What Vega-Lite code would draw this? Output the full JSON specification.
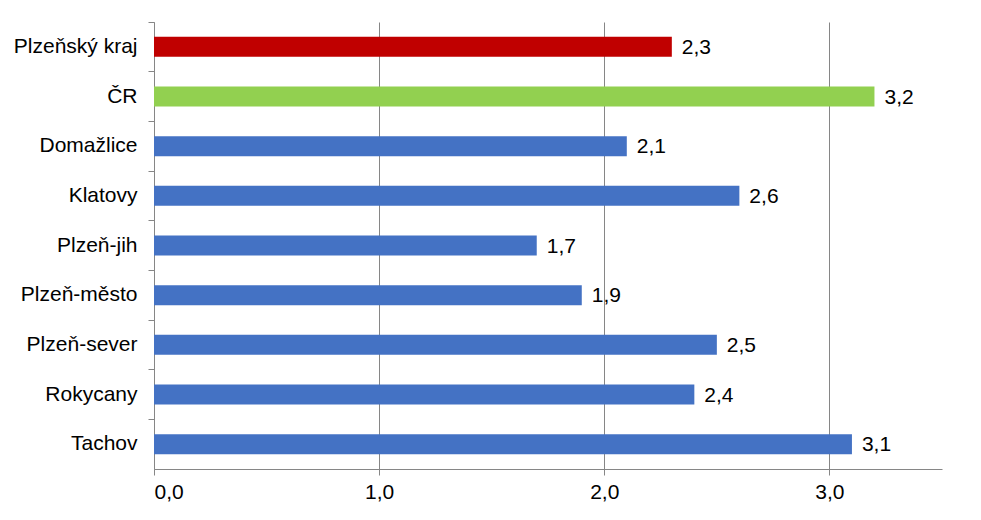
{
  "$schema": "https://vega.github.io/schema/vega-lite/v6.json",
  "width": 788,
  "height": 447,
  "autosize": {"type": "none"},
  "padding": {"left": 154, "top": 22, "right": 39, "bottom": 51},
  "background": "white",
  "config": {
    "view": {"stroke": null},
    "locale": {"number": {"decimal": ",", "thousands": " ", "grouping": [3], "currency": ["", " Kč"]}},
    "font": "Liberation Sans"
  },
  "data": {
    "values": [
      {"region": "Plzeňský kraj", "value": 2.3, "group": "kraj"},
      {"region": "ČR", "value": 3.2, "group": "ČR"},
      {"region": "Domažlice", "value": 2.1, "group": "okres"},
      {"region": "Klatovy", "value": 2.6, "group": "okres"},
      {"region": "Plzeň-jih", "value": 1.7, "group": "okres"},
      {"region": "Plzeň-město", "value": 1.9, "group": "okres"},
      {"region": "Plzeň-sever", "value": 2.5, "group": "okres"},
      {"region": "Rokycany", "value": 2.4, "group": "okres"},
      {"region": "Tachov", "value": 3.1, "group": "okres"}
    ]
  },
  "encoding": {
    "y": {
      "field": "region",
      "type": "nominal",
      "sort": null,
      "scale": {"paddingInner": 0, "paddingOuter": 0},
      "axis": {
        "title": null,
        "bandPosition": 0,
        "domainColor": "#868686",
        "tickColor": "#868686",
        "tickSize": 6,
        "labelPadding": 11,
        "labelFontSize": 21,
        "labelColor": "#000000",
        "labelFont": "Liberation Sans",
        "grid": false
      }
    },
    "x": {
      "field": "value",
      "type": "quantitative",
      "scale": {"domain": [0, 3.5], "nice": false},
      "axis": {
        "title": null,
        "values": [0, 1, 2, 3],
        "format": ".1f",
        "domainColor": "#868686",
        "tickColor": "#868686",
        "gridColor": "#868686",
        "grid": true,
        "tickSize": 6,
        "labelPadding": 6,
        "labelFontSize": 21,
        "labelColor": "#000000",
        "labelFont": "Liberation Sans"
      }
    }
  },
  "layer": [
    {
      "mark": {"type": "bar", "size": 20},
      "encoding": {
        "color": {
          "field": "group",
          "type": "nominal",
          "scale": {"domain": ["kraj", "ČR", "okres"], "range": ["#C00000", "#92D050", "#4472C4"]},
          "legend": null
        }
      }
    },
    {
      "mark": {"type": "text", "align": "left", "baseline": "middle", "dx": 10, "dy": 1, "fontSize": 21, "font": "Liberation Sans", "color": "#000000"},
      "encoding": {
        "text": {"field": "value", "type": "quantitative", "format": ".1f"}
      }
    }
  ]
}
